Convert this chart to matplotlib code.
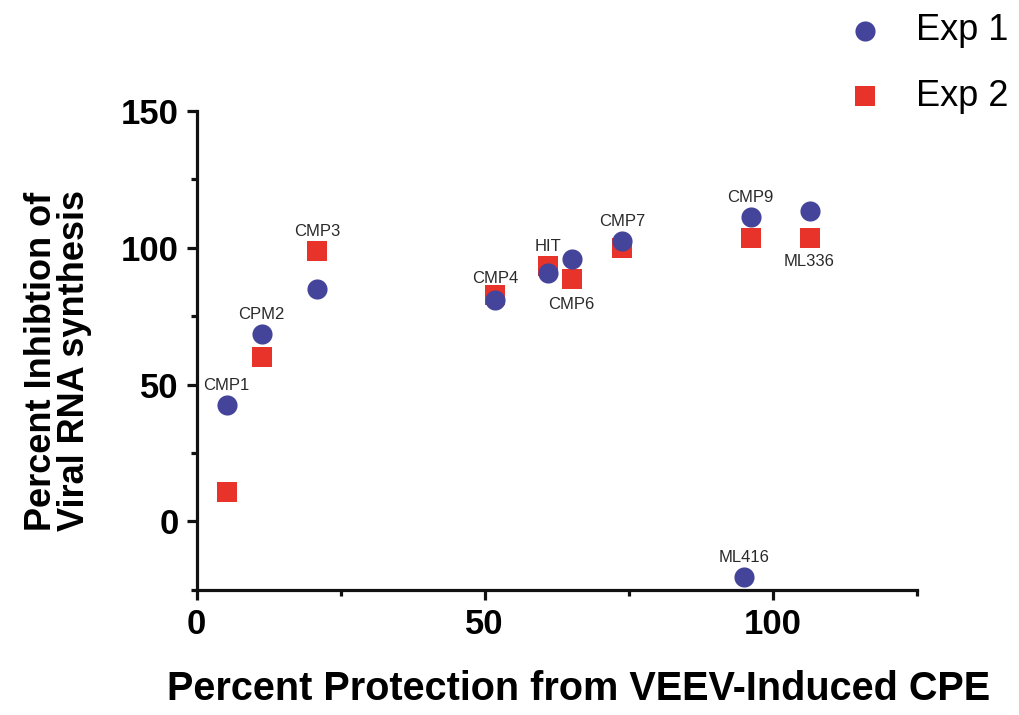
import numpy as np
import matplotlib
matplotlib.use("Agg")
import matplotlib.pyplot as plt

plt.rcParams['font.family'] = ['Liberation Sans', 'DejaVu Sans']

# compostos (rótulos) e valores
compostos = ['CMP1', 'CPM2', 'CMP3', 'CMP4', 'HIT', 'CMP6', 'CMP7', 'CMP9', 'ML336', 'ML416']
# % de proteção (eixo x), mesmo valor para os dois experimentos
protecao = np.array([5.2, 11.3, 20.9, 51.8, 61.0, 65.1, 73.8, 96.2, 106.4, 95.0])
# % de inibição - experimento 1 e 2
exp1 = np.array([42.6, 68.4, 84.8, 80.9, 90.7, 95.8, 102.6, 111.3, 113.4, -20.4])
exp2 = np.array([10.8, 60.1, 98.7, 82.7, 93.2, 88.5, 99.9, 103.6, 103.6, np.nan])

# onde colocar cada rótulo: qual série e deslocamento vertical (pt)
serie_rot = [1, 1, 2, 2, 2, 2, 1, 1, 2, 1]
desloc_rot = [14, 14, 14, 12, 14, -18, 14, 14, -17, 14]

azul = '#43449a'
vermelho = '#e8332b'

fig = plt.figure(figsize=(10.19, 7.15), dpi=100)
ax = fig.add_axes([0.193, 0.175, 0.7066, 0.670])

ax.scatter(protecao, exp2, marker='s', s=190, color=vermelho, linewidths=0, label='Exp 2', zorder=2)
ax.scatter(protecao, exp1, marker='o', s=210, color=azul, linewidths=0, label='Exp 1', zorder=3)

for i, nome in enumerate(compostos):
    yy = exp1[i] if serie_rot[i] == 1 else exp2[i]
    ax.annotate(nome, xy=(protecao[i], yy), xytext=(0, desloc_rot[i]),
                textcoords='offset points', ha='center', va='center',
                fontsize=12, color='#2a2a2a')

ax.set_xlim(0, 125)
ax.set_ylim(-25, 150)
ax.set_xticks([0, 50, 100])
ax.set_xticks([25, 75, 125], minor=True)
ax.set_yticks([0, 50, 100, 150])
ax.set_yticks([-25, 25, 75, 125], minor=True)

for s in ['top', 'right']:
    ax.spines[s].set_visible(False)
for s in ['left', 'bottom']:
    ax.spines[s].set_linewidth(2.3)
    ax.spines[s].set_color('#111111')

ax.tick_params(which='major', length=7, width=2.3, color='#111111', labelsize=25, pad=6)
ax.tick_params(which='minor', length=4, width=2.3, color='#111111')
for t in ax.get_xticklabels() + ax.get_yticklabels():
    t.set_fontweight('bold')

fig.text(0.568, 0.036, 'Percent Protection from VEEV-Induced CPE', ha='center', va='center',
         fontsize=28.5, fontweight='bold')
fig.text(0.057, 0.4965, 'Percent Inhibtion of\nViral RNA synthesis', ha='center', va='center',
         rotation=90, multialignment='left', fontsize=26, fontweight='bold', linespacing=0.95)

h, l = ax.get_legend_handles_labels()
fig.legend([h[1], h[0]], [l[1], l[0]], loc='upper left', bbox_to_anchor=(0.81, 1.012),
           frameon=False, fontsize=26, handlelength=1.0, handletextpad=0.9,
           labelspacing=0.85, borderaxespad=0.2)

fig.savefig('out.png', dpi=100, facecolor='white')
